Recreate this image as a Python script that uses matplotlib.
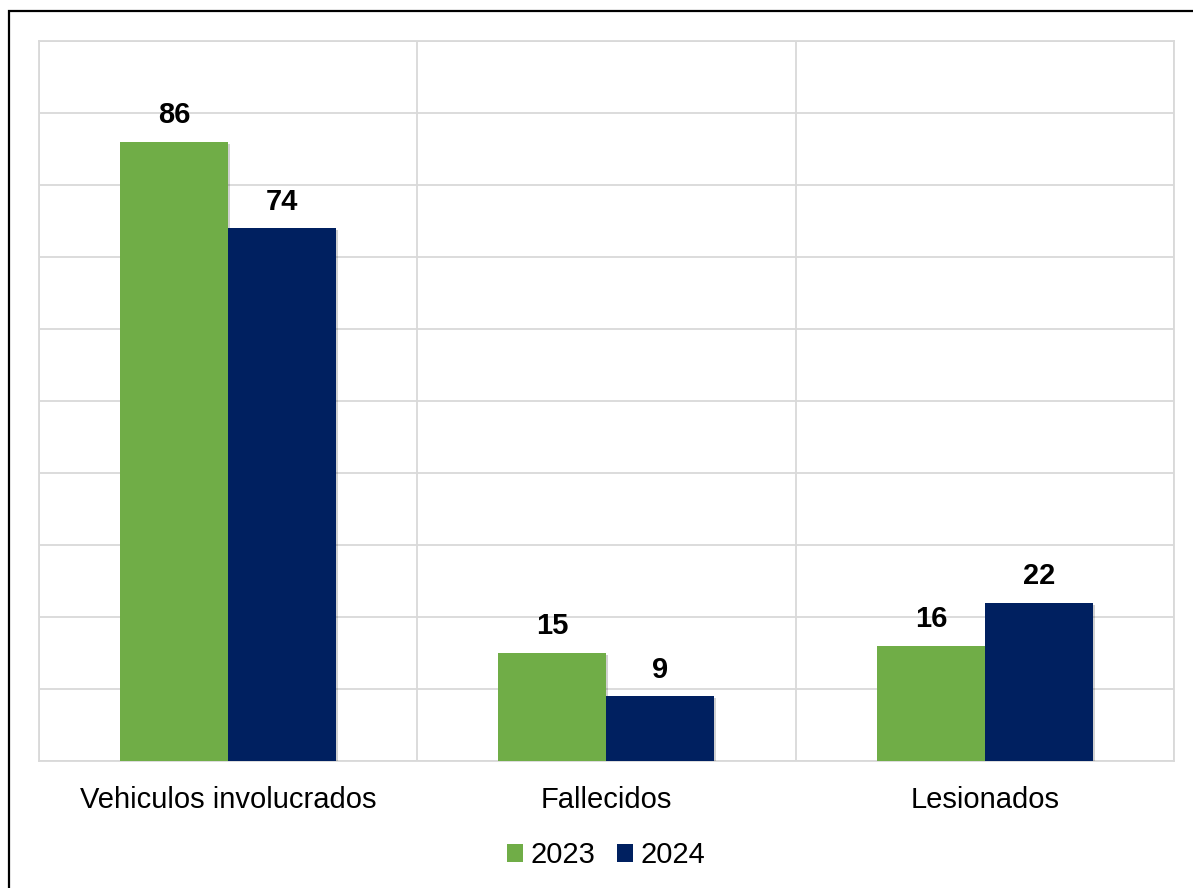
import matplotlib
matplotlib.use("Agg")
import matplotlib.pyplot as plt
import matplotlib.patheffects as pe
from matplotlib.patches import Rectangle, Patch
import numpy as np

plt.rcParams['font.family'] = ['Liberation Sans', 'DejaVu Sans']

categories = ["Vehiculos involucrados", "Fallecidos", "Lesionados"]
series_names = ["2023", "2024"]
values_2023 = [86, 15, 16]
values_2024 = [74, 9, 22]
colors = ["#70AD47", "#002060"]

W, H = 1193, 888
fig = plt.figure(figsize=(W / 100, H / 100), dpi=100)
ax = fig.add_axes([38.5 / W, 1 - 761 / H, (1174 - 38.5) / W, (761 - 41) / H])

x = np.arange(len(categories))
bw = 0.285
shadow = [pe.SimplePatchShadow(offset=(1.5, -1.5), shadow_rgbFace='#000000', alpha=0.18), pe.Normal()]

for i, (vals, col) in enumerate(zip([values_2023, values_2024], colors)):
    offs = (i - 0.5) * bw
    ax.bar(x + offs, vals, width=bw, color=col, zorder=3, path_effects=shadow)
    for xi, v in zip(x + offs, vals):
        ax.annotate(str(v), (xi, v), xytext=(0, 9), textcoords='offset points',
                    ha='center', va='bottom', fontsize=21, fontweight='bold', color='black')

ax.set_xlim(-0.5, len(categories) - 0.5)
ax.set_ylim(0, 100)
ax.set_yticks(np.arange(0, 101, 10))
ax.set_yticklabels([])
ax.tick_params(axis='y', length=0)
ax.set_xticks(x)
ax.set_xticklabels(categories, fontsize=21)
ax.tick_params(axis='x', length=0, pad=18)
ax.set_xticks(np.arange(-0.5, len(categories), 1), minor=True)
ax.tick_params(axis='x', which='minor', length=0)
ax.grid(axis='y', color='#d9d9d9', linewidth=1.3, zorder=0)
ax.grid(axis='x', which='minor', color='#d9d9d9', linewidth=1.3, zorder=0)
ax.grid(axis='x', which='major', visible=False)
for s in ax.spines.values():
    s.set_color('#d9d9d9')
    s.set_linewidth(1.3)

handles = [Patch(facecolor=c, label=n) for c, n in zip(colors, series_names)]
ax.legend(handles=handles, loc='upper center', bbox_to_anchor=(0.5, -0.075), ncol=2,
          frameon=False, fontsize=21, handlelength=0.55, handleheight=0.55,
          handletextpad=0.25, columnspacing=0.75)

fig.patches.append(Rectangle((9 / W, -0.1), 1.2, 1 - 11 / H + 0.1, transform=fig.transFigure,
                             fill=False, edgecolor='black', linewidth=1.6))

fig.savefig("out.png", dpi=100)
